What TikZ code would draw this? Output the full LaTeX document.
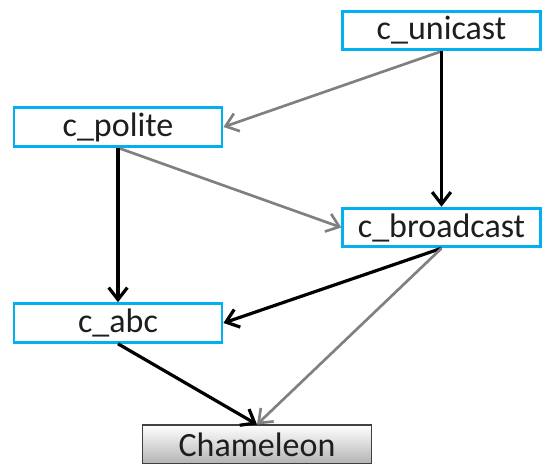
\documentclass[tikz,border=0pt]{standalone}
\usepackage{fontspec}
\setmainfont{Carlito}
\usetikzlibrary{arrows.meta}
\definecolor{boxblue}{RGB}{0,176,240}
\definecolor{edgegray}{RGB}{128,128,128}
\definecolor{inkgray}{RGB}{30,30,30}
\tikzset{
  mod/.style={draw=boxblue, line width=2.2pt, fill=white, inner sep=0pt,
    minimum height=29pt, text=inkgray, font=\fontsize{25.5}{28}\selectfont},
  wide/.style={mod, minimum width=148pt},
  core/.style={draw=black!75, line width=1pt, inner sep=0pt,
    minimum width=172pt, minimum height=29pt, text=inkgray,
    top color=white, bottom color=black!30,
    font=\fontsize{25.5}{28}\selectfont},
  dep/.style={line width=2.4pt, draw=black,
    -{Straight Barb[length=9pt,width=14pt,line width=2.4pt]}},
  weak/.style={line width=2pt, draw=edgegray,
    -{Straight Barb[length=9pt,width=14pt,line width=2pt]}}
}
\begin{document}
\begin{tikzpicture}[x=0.75pt,y=-0.75pt]
  \useasboundingbox (0,0) rectangle (544,470);
  \node[wide] (uni) at (441.5,30.5) {c\_unicast};
  \node[mod, minimum width=156pt] (pol) at (118,127) {c\_polite};
  \node[wide] (bc) at (441.5,227.5) {c\_broadcast};
  \node[mod, minimum width=156pt] (abc) at (118,323) {c\_abc};
  \node[core] (cham) at (257,444.5) {Chameleon};

  \draw[weak] (uni.south) -- (pol.east);
  \draw[dep] (uni.south) -- (bc.north);
  \draw[weak] (pol.south) -- (bc.west);
  \draw[dep] (pol.south) -- (abc.north);
  \draw[dep] (bc.south) -- (abc.east);
  \draw[weak] (bc.south) -- (cham.north);
  \draw[dep] (abc.south) -- (cham.north);
\end{tikzpicture}
\end{document}
